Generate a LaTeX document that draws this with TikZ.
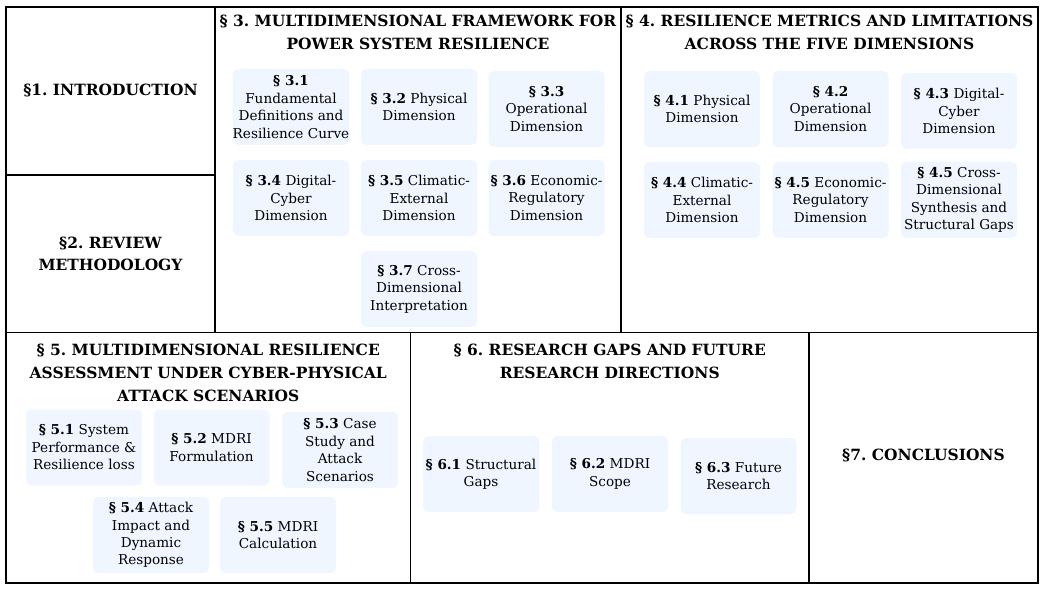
\documentclass[tikz,border=0pt]{standalone}
\usepackage{fontspec}
\setmainfont{DejaVu Serif}
\usetikzlibrary{fit}
\definecolor{subfill}{HTML}{EFF6FF}
\frenchspacing
\tikzset{
  framebox/.style={draw=black, line width=1.4pt, inner sep=0pt},
  ttl/.style={font=\fontsize{11.6}{17}\selectfont\bfseries\frenchspacing, align=center, inner sep=0pt, text=black},
  subbox/.style={fill=subfill, rounded corners=4pt, minimum width=87pt, minimum height=57pt,
    inner sep=0pt, align=center, text=black, font=\fontsize{10.2}{13.1}\selectfont\frenchspacing}
}
\newcommand{\sref}[1]{\textbf{\S~#1}}
\begin{document}
\begin{tikzpicture}[x=0.75pt,y=-0.75pt]
\useasboundingbox[fill=white] (0,0) rectangle (1045,591);
% frames
\node[framebox, fit={(6,7) (215,175)}] (s1) {};
\node[framebox, fit={(6,175) (215,332.5)}] (s2) {};
\node[framebox, fit={(215,7) (621,332.5)}] (s3) {};
\node[framebox, fit={(621,7) (1038,332.5)}] (s4) {};
\node[framebox, fit={(6,332.5) (410.5,583)}] (s5) {};
\node[framebox, fit={(410.5,332.5) (809,583)}] (s6) {};
\node[framebox, fit={(809,332.5) (1038,583)}] (s7) {};
% titles
\node[ttl, anchor=base] (t1) at (110.5,96) {\S1. INTRODUCTION};
\node[ttl] (t2) at (110.5,254) {\S2. REVIEW\\METHODOLOGY};
\node[ttl, anchor=north] (t3) at (418,15) {\S~3. MULTIDIMENSIONAL FRAMEWORK FOR\\POWER SYSTEM RESILIENCE};
\node[ttl, anchor=north] (t4) at (829.5,15) {\S~4. RESILIENCE METRICS AND LIMITATIONS\\ACROSS THE FIVE DIMENSIONS};
\node[ttl, anchor=north] (t5) at (208.25,344) {\S~5. MULTIDIMENSIONAL RESILIENCE\\ASSESSMENT UNDER CYBER-PHYSICAL\\ATTACK SCENARIOS};
\node[ttl, anchor=north] (t6) at (609.75,344) {\S~6. RESEARCH GAPS AND FUTURE\\RESEARCH DIRECTIONS};
\node[ttl, anchor=base] (t7) at (923.5,460) {\S7. CONCLUSIONS};
% section 3 boxes
\node[subbox] (b31) at (291,107) {\sref{3.1}\\Fundamental\\Definitions and\\Resilience Curve};
\node[subbox] (b32) at (419,107) {\sref{3.2} Physical\\Dimension};
\node[subbox] (b33) at (546.5,109) {\sref{3.3}\\Operational\\Dimension};
\node[subbox] (b34) at (291,198) {\sref{3.4} Digital-\\Cyber\\Dimension};
\node[subbox] (b35) at (419,198) {\sref{3.5} Climatic-\\External\\Dimension};
\node[subbox] (b36) at (546.5,198) {\sref{3.6} Economic-\\Regulatory\\Dimension};
\node[subbox] (b37) at (419,289) {\sref{3.7} Cross-\\Dimensional\\Interpretation};
% section 4 boxes
\node[subbox] (b41) at (702,109) {\sref{4.1} Physical\\Dimension};
\node[subbox] (b42) at (830.5,109) {\sref{4.2}\\Operational\\Dimension};
\node[subbox] (b43) at (959,111) {\sref{4.3} Digital-\\Cyber\\Dimension};
\node[subbox] (b44) at (702,200) {\sref{4.4} Climatic-\\External\\Dimension};
\node[subbox] (b45) at (830.5,200) {\sref{4.5} Economic-\\Regulatory\\Dimension};
\node[subbox] (b46) at (959,200) {\sref{4.5} Cross-\\Dimensional\\Synthesis and\\Structural Gaps};
% section 5 boxes
\node[subbox] (b51) at (84,447.5) {\sref{5.1} System\\Performance \&\\Resilience loss};
\node[subbox] (b52) at (211.5,447.5) {\sref{5.2} MDRI\\Formulation};
\node[subbox] (b53) at (340,450) {\sref{5.3} Case\\Study and\\Attack\\Scenarios};
\node[subbox] (b54) at (151,535) {\sref{5.4} Attack\\Impact and\\Dynamic\\Response};
\node[subbox] (b55) at (278,535) {\sref{5.5} MDRI\\Calculation};
% section 6 boxes
\node[subbox] (b61) at (481,474) {\sref{6.1} Structural\\Gaps};
\node[subbox] (b62) at (610,474) {\sref{6.2} MDRI\\Scope};
\node[subbox] (b63) at (738.5,476) {\sref{6.3} Future\\Research};
\end{tikzpicture}
\end{document}
